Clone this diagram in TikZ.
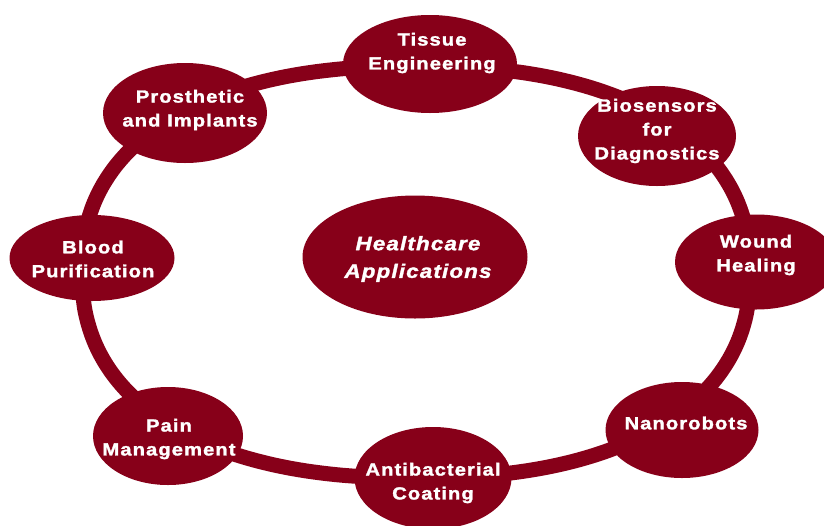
\documentclass[tikz,border=0pt]{standalone}
\usepackage{fontspec}
\setmainfont{Liberation Sans}[FakeStretch=1.15, LetterSpace=6,
  BoldFeatures={FakeBold=1.6}, BoldItalicFeatures={FakeBold=1.6}]
\usetikzlibrary{shapes.geometric,backgrounds}
\definecolor{wine}{RGB}{135,0,25}
\tikzset{
  bubble/.style={ellipse, fill=wine, draw=none, inner sep=0pt},
  bsize/.style 2 args={minimum width=#1*0.03cm, minimum height=#2*0.03cm},
  caption/.style={text=white, align=center, inner sep=0pt,
    font=\fontsize{15}{20.4}\selectfont\bfseries},
  hubcaption/.style={caption, font=\fontsize{16.6}{23.6}\selectfont\bfseries\itshape},
  ringline/.style={draw=wine, line width=0.45cm}
}
\begin{document}
\begin{tikzpicture}[x=0.03cm, y=-0.03cm]
  \useasboundingbox (0,0) rectangle (824,525);

  % application bubbles around the ring
  \node[bubble, bsize={174}{98}]  (tissue) at (430,64)  {};
  \node[bubble, bsize={158}{100}] (bio)    at (657,136) {};
  \node[bubble, bsize={162}{95}]  (wound)  at (756,262) {};
  \node[bubble, bsize={153}{96}]  (nano)   at (682,430) {};
  \node[bubble, bsize={157}{102}] (anti)   at (433,478) {};
  \node[bubble, bsize={150}{98}]  (pain)   at (168,436) {};
  \node[bubble, bsize={165}{86}]  (blood)  at (92,258)  {};
  \node[bubble, bsize={164}{100}] (prost)  at (185,113) {};

  % central topic
  \node[bubble, bsize={225}{123}] (hub) at (415,257) {};

  % captions
  \node[caption]    (tissue-t) at (432,53)  {Tissue\\Engineering};
  \node[caption]    (bio-t)    at (657,131) {Biosensors\\for\\Diagnostics};
  \node[caption]    (wound-t)  at (756,255) {Wound\\Healing};
  \node[caption]    (nano-t)   at (686,423) {Nanorobots};
  \node[caption]    (anti-t)   at (433,483) {Antibacterial\\Coating};
  \node[caption]    (pain-t)   at (169,439) {Pain\\Management};
  \node[caption]    (blood-t)  at (93,259)  {Blood\\Purification};
  \node[caption]    (prost-t)  at (190,110) {Prosthetic\\and Implants};
  \node[hubcaption] (hub-t)    at (418,259) {Healthcare\\Applications};

  % the closed ring that links the bubbles
  \begin{scope}[on background layer]
    \draw[ringline] plot[domain=1:361, samples=121, smooth]
      ({416+334*sign(cos(\x))*abs(cos(\x))^0.87},
       {272+206*sign(sin(\x))*abs(sin(\x))^0.87}) -- cycle;
  \end{scope}
\end{tikzpicture}
\end{document}
